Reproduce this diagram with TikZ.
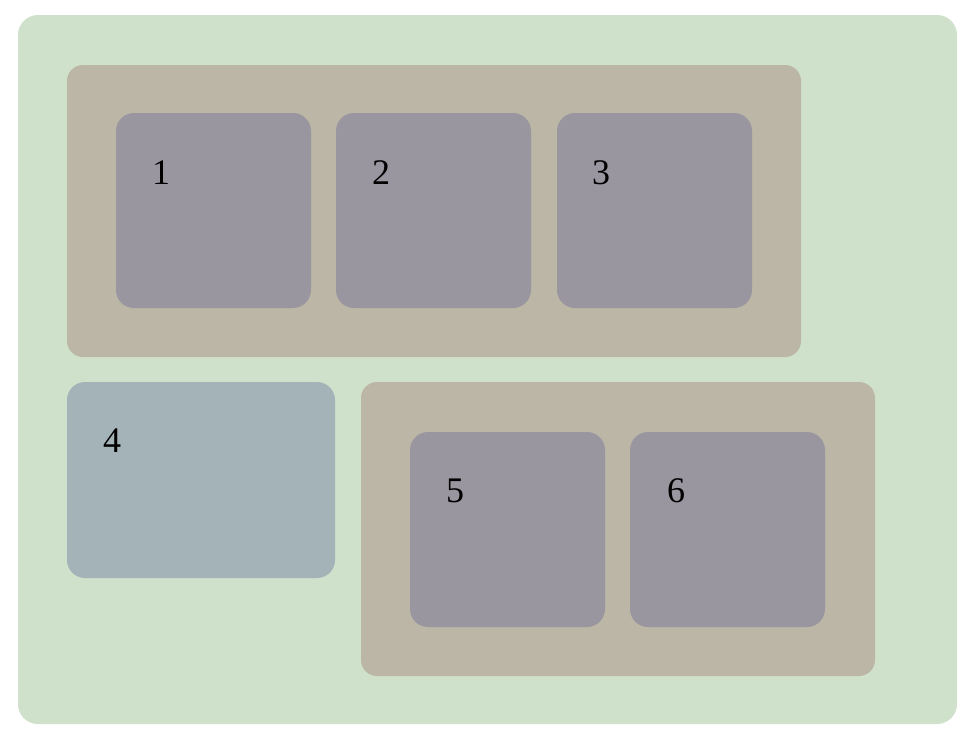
\documentclass[tikz,border=0pt]{standalone}
\usepackage{fontspec}
\setmainfont{Liberation Serif}
\definecolor{outerg}{HTML}{CFE0CB}
\definecolor{tanc}{HTML}{BBB6A6}
\definecolor{purpc}{HTML}{9A96A0}
\definecolor{bluec}{HTML}{A3B3B8}
\begin{document}
\begin{tikzpicture}[x=1pt,y=-1pt,
  panel/.style={rounded corners=18pt, inner sep=0pt, outer sep=0pt, draw=none},
  lbl/.style={font=\fontsize{36}{40}\selectfont, inner sep=0pt, anchor=center}]
\useasboundingbox (0,0) rectangle (976,744);
\fill[white] (0,0) rectangle (976,744);
% outer
\fill[outerg, rounded corners=20pt] (18,15) rectangle (957,724);
\node[coordinate] (outer) at (487,370) {};
% top group
\fill[tanc, rounded corners=16pt] (67,65) rectangle (801,357);
\fill[tanc, rounded corners=16pt] (361,382) rectangle (875,676);
% boxes
\fill[purpc, rounded corners=18pt] (116,113) rectangle (311,308);
\fill[purpc, rounded corners=18pt] (336,113) rectangle (531,308);
\fill[purpc, rounded corners=18pt] (557,113) rectangle (752,308);
\fill[bluec, rounded corners=18pt] (67,382) rectangle (335,578);
\fill[purpc, rounded corners=18pt] (410,432) rectangle (605,627);
\fill[purpc, rounded corners=18pt] (630,432) rectangle (825,627);
% labels
\node[lbl] (l1) at (161,173) {1};
\node[lbl] (l2) at (381,173) {2};
\node[lbl] (l3) at (601,173) {3};
\node[lbl] (l4) at (112,441) {4};
\node[lbl] (l5) at (455,491) {5};
\node[lbl] (l6) at (676,491) {6};
\end{tikzpicture}
\end{document}
